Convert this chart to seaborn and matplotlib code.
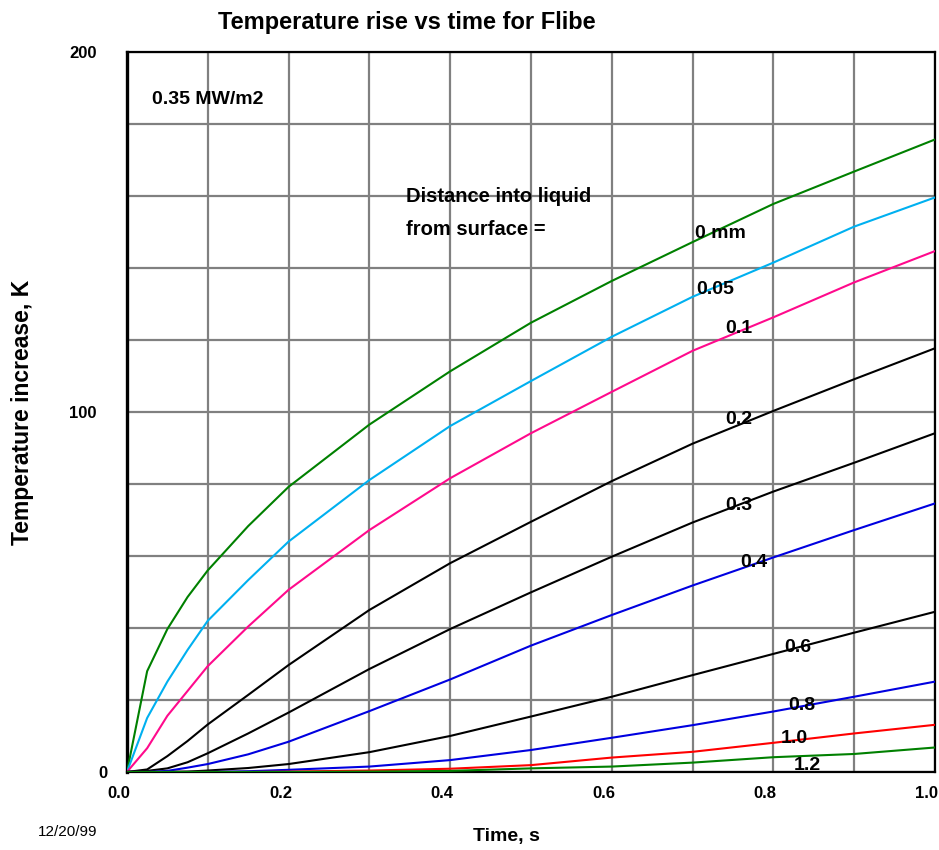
import numpy as np
import pandas as pd
import matplotlib
matplotlib.use('Agg')
import matplotlib.pyplot as plt
import matplotlib.transforms as mtransforms
import seaborn as sns

# time points (s) and temperature rise (K) per depth into the liquid
times = [0, 0.025, 0.05, 0.075, 0.1, 0.15, 0.2, 0.3, 0.4, 0.5, 0.6, 0.7, 0.8, 0.9, 1.0]
depths = ['0 mm', '0.05', '0.1', '0.2', '0.3', '0.4', '0.6', '0.8', '1.0', '1.2']

rise_0 = [0, 28, 39.7, 48.6, 56, 68.3, 79.2, 96.5, 111.3, 124.8, 136.4, 147.2, 157.8, 166.8, 175.7]
rise_005 = [0, 15, 25.1, 33.9, 42, 53.3, 64, 81.1, 96.1, 108.6, 120.9, 132, 141.5, 151.5, 159.6]
rise_01 = [0, 6.6, 15.6, 22.5, 29.4, 40.4, 50.6, 67.2, 81.6, 94.1, 105.6, 117, 126.3, 136, 144.7]
rise_02 = [0, 0.7, 4.4, 8.6, 13.2, 21.4, 29.7, 45, 58, 69.5, 80.8, 91.2, 100.3, 109.1, 117.7]
rise_03 = [0, 0.3, 1, 2.7, 5.2, 10.7, 16.5, 28.6, 39.7, 49.9, 59.8, 69.3, 77.9, 85.9, 94.1]
rise_04 = [0, 0, 0.3, 1.2, 2.2, 4.9, 8.4, 16.9, 25.7, 35.1, 43.6, 51.8, 59.6, 67.2, 74.6]
rise_06 = [0, 0, 0, 0.1, 0.4, 1.1, 2.2, 5.5, 10, 15.4, 20.9, 26.9, 32.8, 38.7, 44.5]
rise_08 = [0, 0, 0, 0, 0, 0.2, 0.6, 1.5, 3.3, 6.1, 9.5, 13, 16.8, 20.9, 25.1]
rise_10 = [0, 0, 0, 0, 0, 0, 0.1, 0.4, 0.9, 1.9, 4, 5.6, 8.1, 10.7, 13.1]
rise_12 = [0, 0, 0, 0, 0, 0, 0, 0.1, 0.3, 1.0, 1.5, 2.6, 4.1, 5.0, 6.8]

all_rises = [rise_0, rise_005, rise_01, rise_02, rise_03, rise_04, rise_06, rise_08, rise_10, rise_12]
colors = ['#008000', '#00B0F0', '#FF0A8C', '#000000', '#000000',
          '#0000E0', '#000000', '#0000E0', '#FF0000', '#008000']

df = pd.DataFrame({
    'time': np.tile(times, len(depths)),
    'rise': np.concatenate(all_rises),
    'depth': np.repeat(depths, len(times)),
})

sns.set_style('white')
plt.rcParams['font.family'] = ['Liberation Sans', 'DejaVu Sans']
plt.rcParams['font.weight'] = 'bold'
plt.rcParams['text.color'] = 'black'
plt.rcParams['axes.labelcolor'] = 'black'
plt.rcParams['xtick.color'] = 'black'
plt.rcParams['ytick.color'] = 'black'

fig = plt.figure(figsize=(9.39, 8.5), dpi=100)
ax = fig.add_axes([0.1352, 0.0918, 0.8605, 0.847])

sns.lineplot(data=df, x='time', y='rise', hue='depth', palette=dict(zip(depths, colors)),
             estimator=None, sort=False, legend=False, linewidth=1.5, ax=ax, zorder=3)

ax.set_xlim(0, 1.0)
ax.set_ylim(0, 200)
ax.set_xticks(np.arange(0, 1.01, 0.2))
ax.set_xticks(np.arange(0, 1.01, 0.1), minor=True)
ax.set_yticks([0, 100, 200])
ax.set_yticks(np.arange(0, 201, 20), minor=True)
ax.set_xticklabels([f'{v:.1f}' for v in np.arange(0, 1.01, 0.2)], fontsize=12, fontweight='bold')
ax.set_yticklabels(['0', '100', '200'], fontsize=12, fontweight='bold')
ax.grid(True, which='both', color='#808080', linewidth=1.6, zorder=1)
ax.set_axisbelow(True)
ax.tick_params(which='both', direction='in', length=4, width=1.5, color='black')
ax.tick_params(axis='x', pad=10)
ax.tick_params(axis='y', pad=22)

# x tick labels sit a little left of their ticks in the original
shift = mtransforms.ScaledTranslation(-8 / 100, 0, fig.dpi_scale_trans)
for lab in ax.get_xticklabels():
    lab.set_transform(lab.get_transform() + shift)
# the "0" on the y axis sits closer to the axis
zero_lab = ax.get_yticklabels()[0]
zero_lab.set_transform(zero_lab.get_transform() + mtransforms.ScaledTranslation(11 / 100, 0, fig.dpi_scale_trans))

for side in ['left', 'right', 'top', 'bottom']:
    ax.spines[side].set_color('black')
    ax.spines[side].set_linewidth(1.6)
ax.spines['left'].set_linewidth(2.4)

ax.set_xlabel('Time, s', fontsize=14, fontweight='bold')
ax.set_ylabel('Temperature increase, K', fontsize=16.5, fontweight='bold')
ax.xaxis.set_label_coords(0.470, -0.078)
ax.yaxis.set_label_coords(-0.115, 0.5)

fig.text(407 / 939, 1 - 22 / 850, 'Temperature rise vs time for Flibe', ha='center', va='center',
         fontsize=17, fontweight='bold')
fig.text(38 / 939, 1 - 832 / 850, '12/20/99', ha='left', va='center', fontsize=11, fontweight='normal')

ax.text(0.031, 186.7, '0.35 MW/m2', fontsize=14, fontweight='bold', va='center', ha='left')
ax.text(0.345, 155.3, 'Distance into liquid\nfrom surface =', fontsize=14.5, fontweight='bold',
        va='center', ha='left', linespacing=1.9)

label_pos = {'0 mm': (0.703, 149.7), '0.05': (0.705, 133.9), '0.1': (0.741, 123.3),
             '0.2': (0.741, 97.8), '0.3': (0.741, 73.9), '0.4': (0.759, 58.3),
             '0.6': (0.814, 34.7), '0.8': (0.818, 18.6), '1.0': (0.809, 9.4), '1.2': (0.825, 1.9)}
for d in depths:
    x, y = label_pos[d]
    ax.text(x, y, d, fontsize=14, fontweight='bold', va='center', ha='left', zorder=4)

fig.savefig('out.png', dpi=100)
